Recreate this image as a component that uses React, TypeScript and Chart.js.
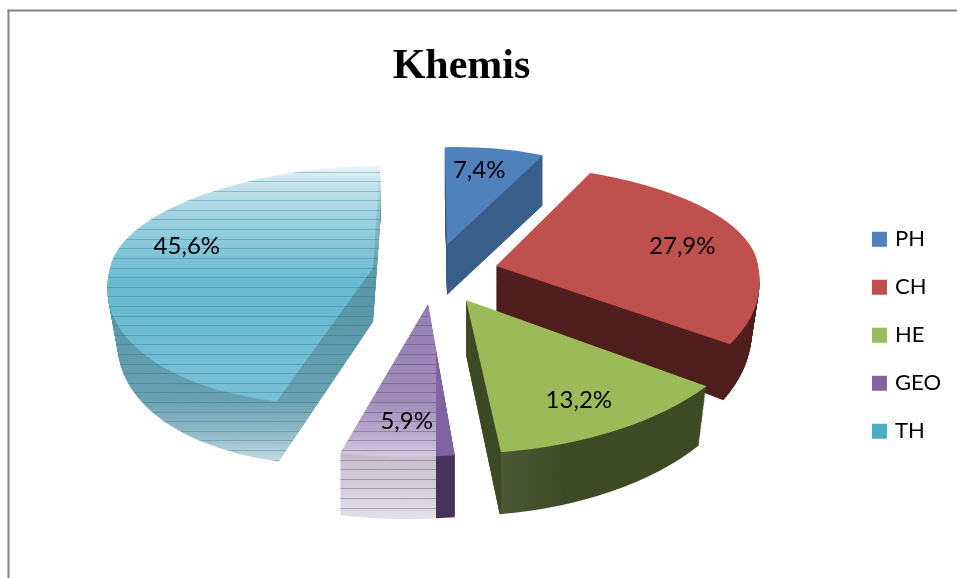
import React, { useEffect, useRef } from "react";
import Chart from "chart.js/auto";

const categories = ["PH", "CH", "HE", "GEO", "TH"];
const shares = [7.4, 27.9, 13.2, 5.9, 45.6];
const labelTexts = ["7,4%", "27,9%", "13,2%", "5,9%", "45,6%"];
const faceColors = ["#4F81BD", "#C0504D", "#9BBB59", "#8064A2", "#4BACC6"];
const wallColors = ["#3A5E8A", "#4F1F1D", "#3F4B25", "#46335A", "#378298"];

const WIDTH = 957;
const HEIGHT = 578;

// 3D look of each exploded slice (view parameters only, no data)
const pieCentre = { x: 440, y: 285 };
const views = [
  { dx: 7, dy: -40, rx: 218, up: [98, -9.3], down: [98, -9.3], depth: 50, taper: 0, grow: 0, nudgeX: -4, nudgeY: -2 },
  { dx: 56, dy: -19, rx: 262, up: [101.5, 11.8], down: [139.5, 30], depth: 46, taper: 0.03, grow: 0.13, nudgeX: 0, nudgeY: 1 },
  { dx: 26, dy: 15, rx: 296, up: [154, -8.4], down: [154, -8.4], depth: 55, taper: 0.03, grow: 0.045, nudgeX: 0, nudgeY: 2 },
  { dx: -12, dy: 19, rx: 312, up: [153, -19], down: [153, -19], depth: 62, taper: 0, grow: 0, nudgeX: 2, nudgeY: 3 },
  { dx: -67, dy: -17, rx: 263, up: [103, -20.8], down: [137, -39], depth: 54, taper: 0.04, grow: 0.045, nudgeX: 9, nudgeY: -15 },
];
const drawOrder = [0, 1, 4, 3, 2];
const veilLimit: Record<number, number> = { 3: 436, 4: 380 };
const veilStops = [
  [165, 0.92], [180, 0.7], [220, 0.45], [280, 0.18], [320, 0.18],
  [400, 0.25], [440, 0.5], [460, 0.7], [520, 0.85],
];

function paintSlice(c: any, el: any, v: any, fill: string, dy: number, t: number) {
  const ax = pieCentre.x + v.dx;
  const ay = pieCentre.y + v.dy + dy;
  const R = el.outerRadius;
  const view = Object.create(el);
  view.options = {
    backgroundColor: fill, borderColor: fill, borderWidth: 0, borderAlign: "center",
    offset: 0, spacing: 0, circular: true, borderRadius: 0, borderJoinStyle: "round",
  };
  [true, false].forEach((isUp) => {
    const [ry, sk] = isUp ? v.up : v.down;
    c.save();
    c.beginPath();
    if (isUp) c.rect(0, 0, WIDTH, ay);
    else c.rect(0, ay, WIDTH, HEIGHT - ay);
    c.clip();
    c.translate(ax, ay);
    c.transform(
      (v.rx * (1 - v.taper * t)) / R, 0,
      sk / R, (ry * (isUp ? 1 : 1 + v.grow * t)) / R,
      0, 0,
    );
    c.translate(-el.x, -el.y);
    el.draw.call(view, c);
    c.restore();
  });
}

const slice3d = {
  id: "slice3d",
  beforeDraw(chart: any) {
    const c = chart.ctx;
    c.save();
    c.fillStyle = "#ffffff";
    c.fillRect(0, 0, WIDTH, HEIGHT);
    c.fillStyle = "#868686";
    c.fillRect(7.5, 9.5, WIDTH, 2);
    c.fillRect(7.5, 9.5, 2, HEIGHT);
    c.restore();
  },
  beforeDatasetsDraw(chart: any) {
    const arcs = chart.getDatasetMeta(0).data;
    const main = chart.ctx;
    drawOrder.forEach((i) => {
      const el = arcs[i];
      const v = views[i];
      const off = document.createElement("canvas");
      off.width = WIDTH;
      off.height = HEIGHT;
      const c: any = off.getContext("2d");
      for (let dy = v.depth; dy >= 1; dy--) {
        paintSlice(c, el, v, wallColors[i], dy, dy / v.depth);
      }
      if (i === 2) {
        const g = c.createLinearGradient(501, 0, 565, 0);
        g.addColorStop(0, "rgba(255,255,255,0.08)");
        g.addColorStop(1, "rgba(255,255,255,0)");
        c.globalCompositeOperation = "source-atop";
        c.fillStyle = g;
        c.fillRect(501, 0, 70, HEIGHT);
        c.globalCompositeOperation = "source-over";
      }
      paintSlice(c, el, v, faceColors[i], 0, 0);
      const limit = veilLimit[i];
      if (limit) {
        c.globalCompositeOperation = "source-atop";
        const top = veilStops[0][0];
        const bottom = veilStops[veilStops.length - 1][0];
        const g = c.createLinearGradient(0, top, 0, bottom);
        veilStops.forEach(([y, a]) => g.addColorStop((y - top) / (bottom - top), `rgba(255,255,255,${a})`));
        c.fillStyle = g;
        c.fillRect(0, 0, limit, HEIGHT);
        c.fillStyle = i === 4 ? "rgba(30,110,140,0.34)" : "rgba(80,60,110,0.38)";
        for (let y = 171.5; y < 515; y += 9.6) c.fillRect(0, Math.round(y), limit, 1);
        c.globalCompositeOperation = "source-over";
      }
      main.drawImage(off, 0, 0);
    });
    // value labels
    main.save();
    main.font = "24px Lato";
    main.fillStyle = "#000000";
    main.textAlign = "center";
    main.textBaseline = "middle";
    arcs.forEach((el: any, i: number) => {
      const v = views[i];
      const mid = (el.startAngle + el.endAngle) / 2;
      const ux = Math.cos(mid);
      const uy = Math.sin(mid);
      const [ry, sk] = uy < 0 ? v.up : v.down;
      const f = 0.75;
      const x = pieCentre.x + v.dx + f * (v.rx * ux + sk * uy) + v.nudgeX;
      const y = pieCentre.y + v.dy + f * ry * uy + v.nudgeY;
      main.fillText(labelTexts[i], x, y);
    });
    main.restore();
    return false;
  },
};

export default function App() {
  const ref = useRef<HTMLCanvasElement | null>(null);
  useEffect(() => {
    const baseLabels = (Chart as any).overrides.pie.plugins.legend.labels.generateLabels;
    const chart = new Chart(ref.current as HTMLCanvasElement, {
      type: "pie",
      data: {
        labels: categories,
        datasets: [{ data: shares, backgroundColor: faceColors, borderWidth: 0 }],
      },
      options: {
        responsive: false,
        animation: false,
        rotation: -3,
        layout: { padding: { left: 74, right: 6, top: 0, bottom: 0 } },
        plugins: {
          tooltip: { enabled: false },
          title: {
            display: true,
            fullSize: false,
            text: "Khemis",
            color: "#000000",
            font: { family: "'Liberation Serif'", size: 42, weight: "bold", lineHeight: 1.2 },
            padding: { top: 42, bottom: 0 },
          },
          legend: {
            position: "right",
            fullSize: false,
            labels: {
              boxWidth: 9,
              boxHeight: 9,
              padding: 26,
              color: "#000000",
              font: { family: "Lato", size: 22 },
              generateLabels: (c: any) =>
                baseLabels(c).map((l: any) => ({ ...l, lineWidth: 6, strokeStyle: l.fillStyle })),
            },
          },
        },
      },
      plugins: [slice3d],
    } as any);
    return () => chart.destroy();
  }, []);
  return (
    <div style={{ position: "absolute", left: 0, top: 0, width: WIDTH, height: HEIGHT }}>
      <canvas ref={ref} width={WIDTH} height={HEIGHT} style={{ display: "block" }} />
    </div>
  );
}
